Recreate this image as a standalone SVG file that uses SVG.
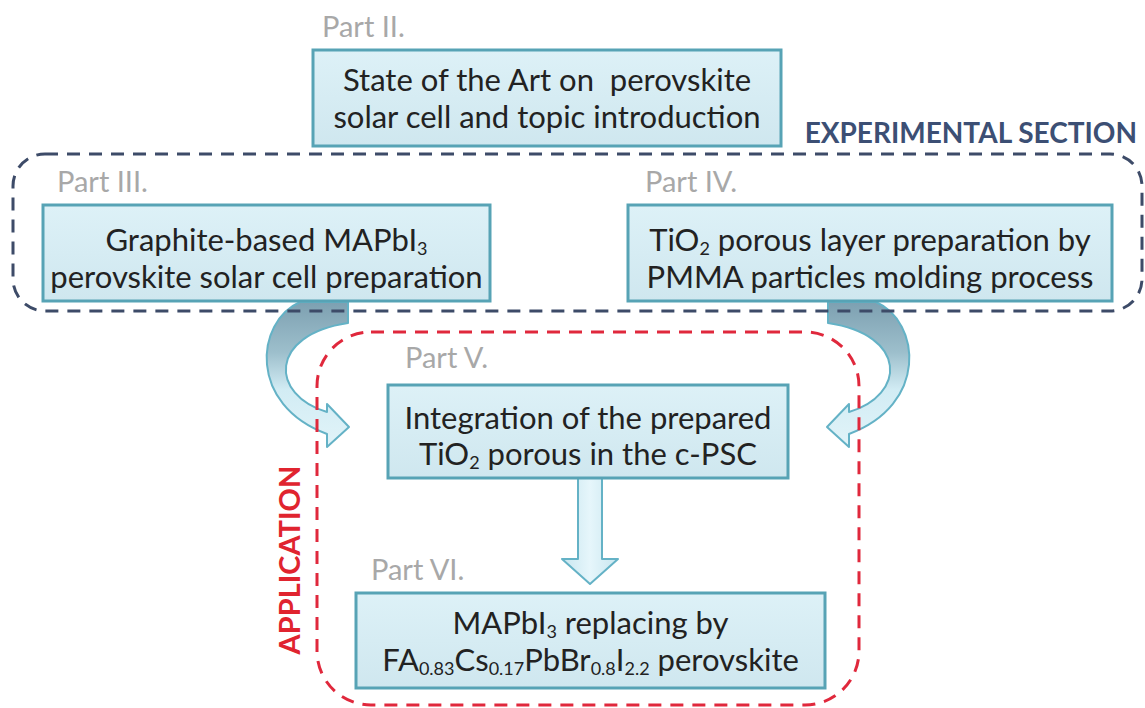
<svg xmlns="http://www.w3.org/2000/svg" width="1145" height="708" viewBox="0 0 1145 708">
<defs>
<linearGradient id="boxg" x1="0" y1="0" x2="0" y2="1">
<stop offset="0" stop-color="#ddf1f7"/>
<stop offset="1" stop-color="#cfe7ef"/>
</linearGradient>
<linearGradient id="curveg" x1="0" y1="300" x2="0" y2="450" gradientUnits="userSpaceOnUse">
<stop offset="0" stop-color="#7c9fb0"/>
<stop offset="0.35" stop-color="#9dbfcc"/>
<stop offset="0.6" stop-color="#d2ecf4"/>
<stop offset="1" stop-color="#e2f4f9"/>
</linearGradient>
<linearGradient id="downg" x1="0" y1="0" x2="1" y2="0">
<stop offset="0" stop-color="#c8e6ef"/>
<stop offset="0.5" stop-color="#e6f6fb"/>
<stop offset="1" stop-color="#c8e6ef"/>
</linearGradient>
<style>
.box{fill:url(#boxg);stroke:#57a3b5;stroke-width:3}
.t{font-family:Lato,"Liberation Sans",sans-serif;font-size:31px;fill:#222222;text-anchor:middle}
.part{font-family:Lato,"Liberation Sans",sans-serif;font-size:29px;fill:#a8a8a8}
.sub{font-size:18px}
.arrow{stroke:#64b2c6;stroke-width:2;stroke-linejoin:round}
.blue{fill:none;stroke:#3d4b68;stroke-width:3;stroke-dasharray:13 9}
.red{fill:none;stroke:#e0283c;stroke-width:3;stroke-dasharray:13 9}
.head{font-family:Lato,"Liberation Sans",sans-serif;font-weight:bold}
</style>
</defs>
<rect width="1145" height="708" fill="#ffffff"/>

<g id="connectors">
<path id="arrow-left" class="arrow" fill="url(#curveg)" d="M 300,302 C 255,322 248,405 327,434 L 327,447 L 349,427 L 327,404 L 327,412 C 270,395 268,335 348,323 L 348,302 Z"/>
<path id="arrow-right" class="arrow" fill="url(#curveg)" transform="translate(1176,0) scale(-1,1)" d="M 300,302 C 255,322 248,405 327,434 L 327,447 L 349,427 L 327,404 L 327,412 C 270,395 268,335 348,323 L 348,302 Z"/>
<path id="arrow-down" class="arrow" fill="url(#downg)" d="M 578,478 L 602,478 L 602,559 L 618,559 L 590,584 L 562,559 L 578,559 Z"/>
</g>

<g id="experimental-section">
<rect class="blue" x="13" y="154" width="1129" height="157" rx="32" ry="32"/>
<text class="head" x="1137" y="143" font-size="28" fill="#3c4f74" text-anchor="end">EXPERIMENTAL SECTION</text>
</g>

<g id="application">
<rect class="red" x="317" y="332" width="542" height="373" rx="54" ry="54"/>
<text class="head" transform="translate(300,560) rotate(-90)" font-size="29" fill="#e0242f" text-anchor="middle">APPLICATION</text>
</g>

<g id="part2">
<text class="part" x="322" y="37">Part II.</text>
<rect class="box" x="313" y="50" width="468" height="96"/>
<text class="t" x="547" y="91" xml:space="preserve">State of the Art on  perovskite</text>
<text class="t" x="547" y="128">solar cell and topic introduction</text>
</g>

<g id="part3">
<text class="part" x="57" y="192">Part III.</text>
<rect class="box" x="43" y="205" width="447" height="96"/>
<text class="t" x="266.5" y="251">Graphite-based MAPbI<tspan class="sub" dy="4">3</tspan></text>
<text class="t" x="266.5" y="288">perovskite solar cell preparation</text>
</g>

<g id="part4">
<text class="part" x="645" y="192">Part IV.</text>
<rect class="box" x="628" y="205" width="484" height="96"/>
<text class="t" x="870" y="251">TiO<tspan class="sub" dy="4">2</tspan><tspan dy="-4"> porous layer preparation by</tspan></text>
<text class="t" x="870" y="288">PMMA particles molding process</text>
</g>

<g id="part5">
<text class="part" x="405" y="368">Part V.</text>
<rect class="box" x="388" y="385" width="400" height="93"/>
<text class="t" x="588" y="429">Integration of the prepared</text>
<text class="t" x="588" y="465">TiO<tspan class="sub" dy="4">2</tspan><tspan dy="-4"> porous in the c-PSC</tspan></text>
</g>

<g id="part6">
<text class="part" x="371" y="580">Part VI.</text>
<rect class="box" x="356" y="593" width="469" height="95"/>
<text class="t" x="590.5" y="634">MAPbI<tspan class="sub" dy="4">3</tspan><tspan dy="-4"> replacing by</tspan></text>
<text class="t" x="590.5" y="671">FA<tspan class="sub" dy="4">0.83</tspan><tspan dy="-4">Cs</tspan><tspan class="sub" dy="4">0.17</tspan><tspan dy="-4">PbBr</tspan><tspan class="sub" dy="4">0.8</tspan><tspan dy="-4">I</tspan><tspan class="sub" dy="4">2.2</tspan><tspan dy="-4"> perovskite</tspan></text>
</g>
</svg>
